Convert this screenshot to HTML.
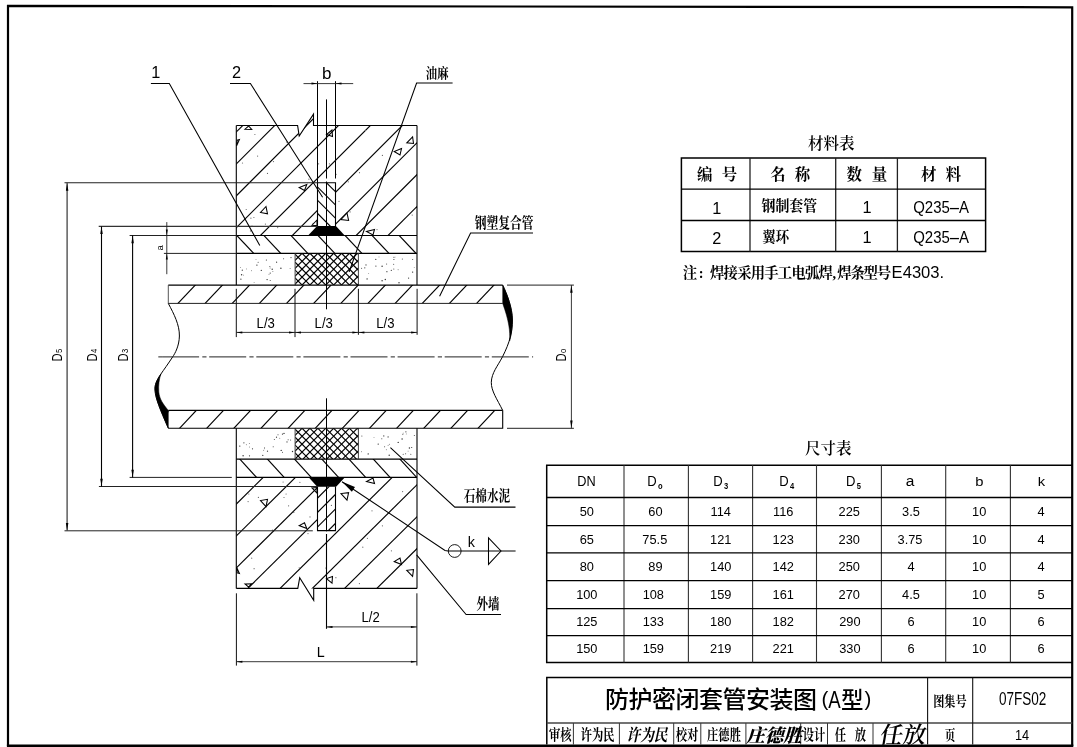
<!DOCTYPE html>
<html lang="zh-CN">
<head>
<meta charset="utf-8">
<title>防护密闭套管安装图(A型)</title>
<style>
html,body{margin:0;padding:0;background:#fff;}
body{width:1077px;height:747px;overflow:hidden;}
svg{display:block;will-change:transform;}
text{white-space:pre;}
</style>
</head>
<body>
<svg width="1077" height="747" viewBox="0 0 1077 747">
<rect x="0" y="0" width="1077" height="747" fill="#fff"/>

<g id="frame">
<path d="M8,746 L8,5.8 L1072.2,7.3 L1072.2,746" stroke="#000" stroke-width="2.2" fill="none" stroke-linejoin="miter"/>
<line x1="6.90" y1="745.70" x2="1073.30" y2="745.70" stroke="#000" stroke-width="2.6" />
</g>
<defs>
<clipPath id="cw1"><path clip-rule="evenodd" d="M236.3,125.5 H297.6 L299.2,136 L313.5,114.1 V125.5 H417.0 V235.5 H236.3 Z M317.5,182.8 H335.5 V235.5 H317.5 Z"/></clipPath>
<clipPath id="cw2"><path clip-rule="evenodd" d="M236.3,477.4 H417.0 V588.4 H236.3 Z M317.5,477.4 H362 V503 H335.5 V530.6 H317.5 Z"/></clipPath>
<clipPath id="cr1"><rect x="317.5" y="182.8" width="18.0" height="43.599999999999994"/></clipPath>
<clipPath id="cr2"><rect x="317.5" y="486.4" width="18.0" height="44.200000000000045"/></clipPath>
<clipPath id="cs1"><rect x="236.3" y="235.5" width="180.7" height="17.900000000000006"/></clipPath>
<clipPath id="cs2"><rect x="236.3" y="459.1" width="180.7" height="18.299999999999955"/></clipPath>
<clipPath id="ck1"><rect x="295.1" y="253.4" width="63.299999999999955" height="31.700000000000017"/></clipPath>
<clipPath id="ck2"><rect x="295.1" y="428.2" width="63.299999999999955" height="30.900000000000034"/></clipPath>
<clipPath id="cp1"><rect x="168.3" y="285.1" width="334.4" height="18.299999999999955"/></clipPath>
<clipPath id="cp2"><rect x="168.3" y="410.4" width="334.4" height="17.80000000000001"/></clipPath>
</defs>
<g id="hatch" stroke="#000" stroke-width="1.15" fill="none">
<g clip-path="url(#cw1)">
<line x1="76.40" y1="260.00" x2="236.40" y2="100.00"/>
<line x1="108.30" y1="260.00" x2="268.30" y2="100.00"/>
<line x1="140.20" y1="260.00" x2="300.20" y2="100.00"/>
<line x1="172.10" y1="260.00" x2="332.10" y2="100.00"/>
<line x1="204.00" y1="260.00" x2="364.00" y2="100.00"/>
<line x1="235.90" y1="260.00" x2="395.90" y2="100.00"/>
<line x1="267.80" y1="260.00" x2="427.80" y2="100.00"/>
<line x1="299.70" y1="260.00" x2="459.70" y2="100.00"/>
<line x1="331.60" y1="260.00" x2="491.60" y2="100.00"/>
<line x1="363.50" y1="260.00" x2="523.50" y2="100.00"/>
<line x1="395.40" y1="260.00" x2="555.40" y2="100.00"/>
</g>
<g clip-path="url(#cw2)">
<line x1="54.67" y1="620.00" x2="216.27" y2="460.00"/>
<line x1="86.92" y1="620.00" x2="248.52" y2="460.00"/>
<line x1="119.17" y1="620.00" x2="280.77" y2="460.00"/>
<line x1="151.42" y1="620.00" x2="313.02" y2="460.00"/>
<line x1="183.67" y1="620.00" x2="345.27" y2="460.00"/>
<line x1="215.92" y1="620.00" x2="377.52" y2="460.00"/>
<line x1="248.17" y1="620.00" x2="409.77" y2="460.00"/>
<line x1="280.42" y1="620.00" x2="442.02" y2="460.00"/>
<line x1="312.67" y1="620.00" x2="474.27" y2="460.00"/>
<line x1="344.92" y1="620.00" x2="506.52" y2="460.00"/>
</g>
<g clip-path="url(#cr1)">
<line x1="313.70" y1="170.00" x2="383.70" y2="240.00"/>
<line x1="300.50" y1="170.00" x2="370.50" y2="240.00"/>
<line x1="287.30" y1="170.00" x2="357.30" y2="240.00"/>
<line x1="274.10" y1="170.00" x2="344.10" y2="240.00"/>
<line x1="260.90" y1="170.00" x2="330.90" y2="240.00"/>
</g>
<g clip-path="url(#cr2)">
<line x1="256.10" y1="545.00" x2="331.10" y2="470.00"/>
<line x1="270.60" y1="545.00" x2="345.60" y2="470.00"/>
<line x1="284.90" y1="545.00" x2="359.90" y2="470.00"/>
<line x1="299.50" y1="545.00" x2="374.50" y2="470.00"/>
<line x1="313.90" y1="545.00" x2="388.90" y2="470.00"/>
</g>
<g clip-path="url(#cs1)">
<line x1="204.85" y1="230.20" x2="231.65" y2="258.70"/>
<line x1="231.90" y1="230.20" x2="258.70" y2="258.70"/>
<line x1="258.95" y1="230.20" x2="285.75" y2="258.70"/>
<line x1="286.00" y1="230.20" x2="312.80" y2="258.70"/>
<line x1="313.05" y1="230.20" x2="339.85" y2="258.70"/>
<line x1="340.10" y1="230.20" x2="366.90" y2="258.70"/>
<line x1="367.15" y1="230.20" x2="393.95" y2="258.70"/>
<line x1="394.20" y1="230.20" x2="421.00" y2="258.70"/>
<line x1="421.25" y1="230.20" x2="448.05" y2="258.70"/>
</g>
<g clip-path="url(#cs2)">
<line x1="207.80" y1="453.70" x2="234.40" y2="482.80"/>
<line x1="234.90" y1="453.70" x2="261.50" y2="482.80"/>
<line x1="262.50" y1="453.70" x2="289.10" y2="482.80"/>
<line x1="289.60" y1="453.70" x2="316.20" y2="482.80"/>
<line x1="316.90" y1="453.70" x2="343.50" y2="482.80"/>
<line x1="344.00" y1="453.70" x2="370.60" y2="482.80"/>
<line x1="368.40" y1="453.70" x2="395.00" y2="482.80"/>
<line x1="395.00" y1="453.70" x2="421.60" y2="482.80"/>
<line x1="422.00" y1="453.70" x2="448.60" y2="482.80"/>
</g>
<g clip-path="url(#cp1)">
<line x1="147.75" y1="306.60" x2="171.15" y2="281.90"/>
<line x1="174.90" y1="306.60" x2="198.30" y2="281.90"/>
<line x1="202.05" y1="306.60" x2="225.45" y2="281.90"/>
<line x1="229.20" y1="306.60" x2="252.60" y2="281.90"/>
<line x1="256.35" y1="306.60" x2="279.75" y2="281.90"/>
<line x1="283.50" y1="306.60" x2="306.90" y2="281.90"/>
<line x1="310.65" y1="306.60" x2="334.05" y2="281.90"/>
<line x1="337.80" y1="306.60" x2="361.20" y2="281.90"/>
<line x1="364.95" y1="306.60" x2="388.35" y2="281.90"/>
<line x1="392.10" y1="306.60" x2="415.50" y2="281.90"/>
<line x1="419.25" y1="306.60" x2="442.65" y2="281.90"/>
<line x1="446.40" y1="306.60" x2="469.80" y2="281.90"/>
<line x1="473.55" y1="306.60" x2="496.95" y2="281.90"/>
<line x1="500.70" y1="306.60" x2="524.10" y2="281.90"/>
<line x1="527.85" y1="306.60" x2="551.25" y2="281.90"/>
</g>
<g clip-path="url(#cp2)">
<line x1="149.57" y1="431.40" x2="172.17" y2="407.20"/>
<line x1="176.70" y1="431.40" x2="199.30" y2="407.20"/>
<line x1="203.83" y1="431.40" x2="226.43" y2="407.20"/>
<line x1="230.96" y1="431.40" x2="253.56" y2="407.20"/>
<line x1="258.09" y1="431.40" x2="280.69" y2="407.20"/>
<line x1="285.22" y1="431.40" x2="307.82" y2="407.20"/>
<line x1="312.35" y1="431.40" x2="334.95" y2="407.20"/>
<line x1="339.48" y1="431.40" x2="362.08" y2="407.20"/>
<line x1="366.61" y1="431.40" x2="389.21" y2="407.20"/>
<line x1="393.74" y1="431.40" x2="416.34" y2="407.20"/>
<line x1="420.87" y1="431.40" x2="443.47" y2="407.20"/>
<line x1="448.00" y1="431.40" x2="470.60" y2="407.20"/>
<line x1="475.13" y1="431.40" x2="497.73" y2="407.20"/>
<line x1="502.26" y1="431.40" x2="524.86" y2="407.20"/>
<line x1="529.39" y1="431.40" x2="551.99" y2="407.20"/>
</g>
<g clip-path="url(#ck1)" stroke-width="1.2">
<line x1="262.60" y1="253.40" x2="294.30" y2="285.10"/>
<line x1="262.40" y1="285.10" x2="294.10" y2="253.40"/>
<line x1="270.50" y1="253.40" x2="302.20" y2="285.10"/>
<line x1="270.30" y1="285.10" x2="302.00" y2="253.40"/>
<line x1="278.40" y1="253.40" x2="310.10" y2="285.10"/>
<line x1="278.20" y1="285.10" x2="309.90" y2="253.40"/>
<line x1="286.30" y1="253.40" x2="318.00" y2="285.10"/>
<line x1="286.10" y1="285.10" x2="317.80" y2="253.40"/>
<line x1="294.20" y1="253.40" x2="325.90" y2="285.10"/>
<line x1="294.00" y1="285.10" x2="325.70" y2="253.40"/>
<line x1="302.10" y1="253.40" x2="333.80" y2="285.10"/>
<line x1="301.90" y1="285.10" x2="333.60" y2="253.40"/>
<line x1="310.00" y1="253.40" x2="341.70" y2="285.10"/>
<line x1="309.80" y1="285.10" x2="341.50" y2="253.40"/>
<line x1="317.90" y1="253.40" x2="349.60" y2="285.10"/>
<line x1="317.70" y1="285.10" x2="349.40" y2="253.40"/>
<line x1="325.80" y1="253.40" x2="357.50" y2="285.10"/>
<line x1="325.60" y1="285.10" x2="357.30" y2="253.40"/>
<line x1="333.70" y1="253.40" x2="365.40" y2="285.10"/>
<line x1="333.50" y1="285.10" x2="365.20" y2="253.40"/>
<line x1="341.60" y1="253.40" x2="373.30" y2="285.10"/>
<line x1="341.40" y1="285.10" x2="373.10" y2="253.40"/>
<line x1="349.50" y1="253.40" x2="381.20" y2="285.10"/>
<line x1="349.30" y1="285.10" x2="381.00" y2="253.40"/>
<line x1="357.40" y1="253.40" x2="389.10" y2="285.10"/>
<line x1="357.20" y1="285.10" x2="388.90" y2="253.40"/>
</g>
<g clip-path="url(#ck2)" stroke-width="1.2">
<line x1="270.30" y1="428.20" x2="301.20" y2="459.10"/>
<line x1="278.20" y1="428.20" x2="309.10" y2="459.10"/>
<line x1="286.10" y1="428.20" x2="317.00" y2="459.10"/>
<line x1="294.00" y1="428.20" x2="324.90" y2="459.10"/>
<line x1="301.90" y1="428.20" x2="332.80" y2="459.10"/>
<line x1="309.80" y1="428.20" x2="340.70" y2="459.10"/>
<line x1="317.70" y1="428.20" x2="348.60" y2="459.10"/>
<line x1="325.60" y1="428.20" x2="356.50" y2="459.10"/>
<line x1="333.50" y1="428.20" x2="364.40" y2="459.10"/>
<line x1="341.40" y1="428.20" x2="372.30" y2="459.10"/>
<line x1="349.30" y1="428.20" x2="380.20" y2="459.10"/>
<line x1="357.20" y1="428.20" x2="388.10" y2="459.10"/>
<line x1="263.40" y1="459.10" x2="294.30" y2="428.20"/>
<line x1="271.30" y1="459.10" x2="302.20" y2="428.20"/>
<line x1="279.20" y1="459.10" x2="310.10" y2="428.20"/>
<line x1="287.10" y1="459.10" x2="318.00" y2="428.20"/>
<line x1="295.00" y1="459.10" x2="325.90" y2="428.20"/>
<line x1="302.90" y1="459.10" x2="333.80" y2="428.20"/>
<line x1="310.80" y1="459.10" x2="341.70" y2="428.20"/>
<line x1="318.70" y1="459.10" x2="349.60" y2="428.20"/>
<line x1="326.60" y1="459.10" x2="357.50" y2="428.20"/>
<line x1="334.50" y1="459.10" x2="365.40" y2="428.20"/>
<line x1="342.40" y1="459.10" x2="373.30" y2="428.20"/>
<line x1="350.30" y1="459.10" x2="381.20" y2="428.20"/>
<line x1="358.20" y1="459.10" x2="389.10" y2="428.20"/>
</g>
</g>
<g id="dots" fill="#333">
<circle cx="256.0" cy="259.6" r="0.45"/>
<circle cx="242.3" cy="270.2" r="0.6"/>
<circle cx="270.2" cy="280.6" r="0.5"/>
<circle cx="240.4" cy="267.4" r="0.45"/>
<circle cx="251.5" cy="270.7" r="0.45"/>
<circle cx="283.6" cy="258.8" r="0.5"/>
<circle cx="272.9" cy="271.5" r="0.45"/>
<circle cx="269.9" cy="266.4" r="0.5"/>
<circle cx="240.9" cy="279.2" r="0.6"/>
<circle cx="261.3" cy="270.4" r="0.6"/>
<circle cx="269.0" cy="274.3" r="0.45"/>
<circle cx="270.2" cy="273.1" r="0.6"/>
<circle cx="243.6" cy="275.1" r="0.45"/>
<circle cx="272.2" cy="269.2" r="0.7"/>
<circle cx="280.9" cy="268.3" r="0.7"/>
<circle cx="258.1" cy="262.3" r="0.5"/>
<circle cx="276.6" cy="262.2" r="0.6"/>
<circle cx="267.1" cy="279.6" r="0.7"/>
<circle cx="254.1" cy="282.6" r="0.45"/>
<circle cx="266.4" cy="260.0" r="0.6"/>
<circle cx="246.6" cy="268.9" r="0.45"/>
<circle cx="291.0" cy="257.6" r="0.6"/>
<circle cx="256.9" cy="265.1" r="0.7"/>
<circle cx="270.1" cy="268.0" r="0.45"/>
<circle cx="290.1" cy="268.5" r="0.45"/>
<circle cx="241.6" cy="274.8" r="0.7"/>
<circle cx="375.9" cy="266.1" r="0.6"/>
<circle cx="361.6" cy="268.2" r="0.5"/>
<circle cx="393.8" cy="269.1" r="0.5"/>
<circle cx="402.3" cy="259.0" r="0.5"/>
<circle cx="382.1" cy="280.8" r="0.7"/>
<circle cx="364.8" cy="267.8" r="0.6"/>
<circle cx="408.6" cy="278.1" r="0.6"/>
<circle cx="399.0" cy="282.7" r="0.7"/>
<circle cx="412.7" cy="259.6" r="0.5"/>
<circle cx="368.7" cy="273.6" r="0.45"/>
<circle cx="386.9" cy="271.7" r="0.6"/>
<circle cx="375.8" cy="259.4" r="0.6"/>
<circle cx="393.7" cy="264.2" r="0.5"/>
<circle cx="398.1" cy="269.7" r="0.45"/>
<circle cx="385.3" cy="279.5" r="0.7"/>
<circle cx="382.1" cy="266.3" r="0.7"/>
<circle cx="395.0" cy="257.1" r="0.45"/>
<circle cx="414.2" cy="267.6" r="0.45"/>
<circle cx="379.0" cy="256.9" r="0.45"/>
<circle cx="391.3" cy="270.3" r="0.6"/>
<circle cx="393.9" cy="257.3" r="0.5"/>
<circle cx="393.9" cy="259.5" r="0.6"/>
<circle cx="412.6" cy="272.1" r="0.7"/>
<circle cx="367.1" cy="278.9" r="0.7"/>
<circle cx="386.6" cy="264.0" r="0.5"/>
<circle cx="366.0" cy="264.9" r="0.6"/>
<circle cx="264.5" cy="448.8" r="0.45"/>
<circle cx="249.5" cy="455.8" r="0.6"/>
<circle cx="246.3" cy="444.8" r="0.45"/>
<circle cx="279.8" cy="438.2" r="0.45"/>
<circle cx="276.5" cy="437.2" r="0.6"/>
<circle cx="288.1" cy="439.8" r="0.5"/>
<circle cx="267.5" cy="451.2" r="0.6"/>
<circle cx="273.2" cy="446.7" r="0.5"/>
<circle cx="282.5" cy="452.2" r="0.5"/>
<circle cx="249.3" cy="443.5" r="0.45"/>
<circle cx="292.5" cy="451.5" r="0.7"/>
<circle cx="252.5" cy="448.8" r="0.6"/>
<circle cx="262.8" cy="455.4" r="0.6"/>
<circle cx="290.6" cy="440.0" r="0.5"/>
<circle cx="243.9" cy="442.8" r="0.6"/>
<circle cx="249.5" cy="447.0" r="0.45"/>
<circle cx="264.6" cy="447.8" r="0.45"/>
<circle cx="284.0" cy="433.4" r="0.7"/>
<circle cx="281.2" cy="450.4" r="0.7"/>
<circle cx="287.0" cy="441.9" r="0.6"/>
<circle cx="243.1" cy="455.7" r="0.7"/>
<circle cx="263.7" cy="450.2" r="0.45"/>
<circle cx="278.0" cy="434.8" r="0.5"/>
<circle cx="239.8" cy="446.1" r="0.7"/>
<circle cx="282.5" cy="434.1" r="0.7"/>
<circle cx="274.3" cy="439.6" r="0.5"/>
<circle cx="361.6" cy="451.7" r="0.45"/>
<circle cx="389.2" cy="455.3" r="0.7"/>
<circle cx="414.3" cy="435.4" r="0.5"/>
<circle cx="361.9" cy="435.9" r="0.5"/>
<circle cx="402.1" cy="439.0" r="0.7"/>
<circle cx="405.9" cy="431.8" r="0.6"/>
<circle cx="409.4" cy="448.0" r="0.7"/>
<circle cx="405.6" cy="453.8" r="0.5"/>
<circle cx="389.4" cy="444.3" r="0.45"/>
<circle cx="408.1" cy="451.1" r="0.45"/>
<circle cx="402.8" cy="434.2" r="0.5"/>
<circle cx="386.3" cy="449.7" r="0.45"/>
<circle cx="378.2" cy="444.1" r="0.7"/>
<circle cx="403.2" cy="433.1" r="0.45"/>
<circle cx="374.0" cy="437.6" r="0.45"/>
<circle cx="388.1" cy="445.3" r="0.45"/>
<circle cx="384.6" cy="446.7" r="0.5"/>
<circle cx="398.2" cy="442.4" r="0.7"/>
<circle cx="388.1" cy="436.9" r="0.6"/>
<circle cx="410.8" cy="454.2" r="0.5"/>
<circle cx="406.3" cy="433.9" r="0.45"/>
<circle cx="381.8" cy="438.7" r="0.5"/>
<circle cx="383.8" cy="435.9" r="0.6"/>
<circle cx="403.2" cy="454.3" r="0.5"/>
<circle cx="411.7" cy="447.5" r="0.6"/>
<circle cx="368.2" cy="453.9" r="0.7"/>
</g><g id="specks" fill="#666">
<circle cx="277.7" cy="227.6" r="0.6"/>
<circle cx="308.9" cy="179.2" r="0.6"/>
<circle cx="412.2" cy="215.1" r="0.6"/>
<circle cx="267.5" cy="173.4" r="0.6"/>
<circle cx="329.4" cy="163.8" r="0.6"/>
<circle cx="273.5" cy="161.6" r="0.6"/>
<circle cx="365.5" cy="130.5" r="0.6"/>
<circle cx="336.1" cy="174.3" r="0.6"/>
<circle cx="242.5" cy="163.0" r="0.6"/>
<circle cx="348.3" cy="181.8" r="0.6"/>
<circle cx="250.5" cy="230.9" r="0.6"/>
<circle cx="377.0" cy="229.6" r="0.6"/>
<circle cx="257.6" cy="156.1" r="0.6"/>
<circle cx="246.2" cy="209.5" r="0.6"/>
<circle cx="286.5" cy="142.0" r="0.6"/>
<circle cx="313.1" cy="223.3" r="0.6"/>
<circle cx="382.4" cy="155.4" r="0.6"/>
<circle cx="265.4" cy="224.1" r="0.6"/>
<circle cx="339.0" cy="201.3" r="0.6"/>
<circle cx="254.9" cy="134.5" r="0.6"/>
<circle cx="359.5" cy="172.7" r="0.6"/>
<circle cx="252.0" cy="226.1" r="0.6"/>
<circle cx="350.1" cy="211.9" r="0.6"/>
<circle cx="253.9" cy="217.5" r="0.6"/>
<circle cx="250.9" cy="218.2" r="0.6"/>
<circle cx="318.6" cy="163.8" r="0.6"/>
<circle cx="335.9" cy="577.7" r="0.6"/>
<circle cx="286.1" cy="494.0" r="0.6"/>
<circle cx="331.4" cy="505.4" r="0.6"/>
<circle cx="258.4" cy="497.4" r="0.6"/>
<circle cx="248.1" cy="501.6" r="0.6"/>
<circle cx="293.8" cy="512.4" r="0.6"/>
<circle cx="372.0" cy="510.8" r="0.6"/>
<circle cx="326.7" cy="499.1" r="0.6"/>
<circle cx="299.9" cy="482.3" r="0.6"/>
<circle cx="283.1" cy="482.0" r="0.6"/>
<circle cx="367.4" cy="538.3" r="0.6"/>
<circle cx="272.4" cy="530.2" r="0.6"/>
<circle cx="402.6" cy="491.6" r="0.6"/>
<circle cx="382.4" cy="525.8" r="0.6"/>
<circle cx="325.8" cy="568.0" r="0.6"/>
<circle cx="308.0" cy="533.6" r="0.6"/>
<circle cx="359.4" cy="583.6" r="0.6"/>
<circle cx="299.2" cy="567.8" r="0.6"/>
<circle cx="362.8" cy="547.2" r="0.6"/>
<circle cx="310.0" cy="516.9" r="0.6"/>
<circle cx="248.8" cy="494.0" r="0.6"/>
<circle cx="251.7" cy="558.2" r="0.6"/>
<circle cx="284.0" cy="497.5" r="0.6"/>
<circle cx="254.1" cy="568.7" r="0.6"/>
<circle cx="391.4" cy="550.8" r="0.6"/>
<circle cx="288.6" cy="505.8" r="0.6"/>
</g>
<g id="tri" stroke="#000" stroke-width="1.05" fill="none" stroke-linejoin="miter">
<polygon points="245.0,129.2 251.7,129.4 248.6,126.0"/>
<polygon points="245.0,583.9 251.7,583.7 248.6,587.1"/>
<polygon points="239.4,139.6 236.6,145.8 237.2,140.2"/>
<polygon points="239.4,573.5 236.6,567.3 237.2,572.9"/>
<polygon points="332.0,130.0 326.5,134.5 332.5,136.5"/>
<polygon points="332.0,583.1 326.5,578.6 332.5,576.6"/>
<polygon points="412.6,136.8 406.8,142.8 413.5,143.5"/>
<polygon points="412.6,576.3 406.8,570.3 413.5,569.6"/>
<polygon points="401.5,148.5 394.2,151.5 400.0,155.0"/>
<polygon points="401.5,564.6 394.2,561.6 400.0,558.1"/>
<polygon points="306.8,184.5 299.2,187.5 304.5,190.4"/>
<polygon points="306.8,528.6 299.2,525.6 304.5,522.7"/>
<polygon points="266.0,206.5 260.5,212.5 267.5,213.8"/>
<polygon points="266.0,506.6 260.5,500.6 267.5,499.3"/>
<polygon points="317.0,220.0 312.0,225.2 317.0,225.6"/>
<polygon points="317.0,493.1 312.0,487.9 317.0,487.5"/>
<polygon points="347.0,213.0 341.0,219.5 348.6,220.4"/>
<polygon points="347.0,500.1 341.0,493.6 348.6,492.7"/>
<polygon points="374.5,229.5 366.5,231.5 373.0,235.0"/>
<polygon points="374.5,483.6 366.5,481.6 373.0,478.1"/>
</g>
<g id="outline" stroke="#000" stroke-width="1.1" fill="none">
<path d="M236.3,125.5 H297.6 L299.2,136 L313.5,114.1 V125.5 H417.0" stroke="#000" stroke-width="1.1" fill="none" />
<path d="M236.3,588.4 H297.8 L299.7,577.7 L313.7,600.4 V588.4 H417.0" stroke="#000" stroke-width="1.1" fill="none" />
<line x1="236.30" y1="125.50" x2="236.30" y2="285.10" stroke="#000" stroke-width="1.1" />
<line x1="417.00" y1="125.50" x2="417.00" y2="285.10" stroke="#000" stroke-width="1.1" />
<line x1="236.30" y1="428.20" x2="236.30" y2="588.40" stroke="#000" stroke-width="1.1" />
<line x1="417.00" y1="428.20" x2="417.00" y2="588.40" stroke="#000" stroke-width="1.1" />
<line x1="236.30" y1="235.50" x2="417.00" y2="235.50" stroke="#000" stroke-width="1.1" />
<line x1="236.30" y1="253.40" x2="417.00" y2="253.40" stroke="#000" stroke-width="1.1" />
<line x1="236.30" y1="459.10" x2="417.00" y2="459.10" stroke="#000" stroke-width="1.1" />
<line x1="236.30" y1="477.40" x2="417.00" y2="477.40" stroke="#000" stroke-width="1.1" />
<line x1="295.10" y1="253.40" x2="295.10" y2="285.10" stroke="#444" stroke-width="1.0" />
<line x1="295.10" y1="428.20" x2="295.10" y2="459.10" stroke="#444" stroke-width="1.0" />
<line x1="358.40" y1="253.40" x2="358.40" y2="285.10" stroke="#444" stroke-width="1.0" />
<line x1="358.40" y1="428.20" x2="358.40" y2="459.10" stroke="#444" stroke-width="1.0" />
<path d="M317.5,226.4 V182.8 H335.5 V226.4" stroke="#000" stroke-width="1.1" fill="none" />
<path d="M317.5,486.4 V530.6 H335.5 V486.4" stroke="#000" stroke-width="1.1" fill="none" />
<path d="M502.7,285.1 H168.3" stroke="#000" stroke-width="1.05" fill="none" />
<line x1="168.30" y1="303.40" x2="502.70" y2="303.40" stroke="#222" stroke-width="1.0" />
<line x1="168.30" y1="285.10" x2="168.30" y2="303.40" stroke="#555" stroke-width="1.0" />
<path d="M502.7,410.4 H168.3 M168.3,428.2 H502.7 V410.4" stroke="#000" stroke-width="1.1" fill="none" />
</g>
<polygon points="317.10,226.00 335.90,226.00 345.20,236.00 307.60,236.00" fill="#000" stroke="none" stroke-width="1"/>
<polygon points="308.40,476.90 345.20,476.90 336.10,486.80 317.20,486.80" fill="#000" stroke="none" stroke-width="1"/>
<g id="breaks">
<path d="M168.3,303.4 C174,314 179.6,325 179.4,336 C179.2,346 175,353.5 172.6,357 C168,364 164,369.5 160.9,374 C156.5,380.5 154.6,385 155,390 C155.6,399 160,409 168.3,428.2" stroke="#000" stroke-width="1.0" fill="none" />
<path d="M160.9,374 C156.5,380.5 154.6,385 155,390 C155.6,399 160,409 168.3,428.2 L168.3,410.4 C163,404 159.5,399 158.8,392 C158.3,385 159.2,379 160.9,374 Z" stroke="#000" stroke-width="0.5" fill="#000" />
<path d="M502.7,285.1 C507,294 512.4,308 512.4,320 C512.4,332 510,342 502.4,357 C498,365.5 491.5,373 491.3,382.3 C491.2,391 497,399 502.7,410.4" stroke="#000" stroke-width="1.0" fill="none" />
<path d="M502.7,285.1 C507,294 512.4,308 512.4,320 C512.4,328 511.3,335 509.6,341 C510.2,331 509,321 502.7,303.4 Z" stroke="#000" stroke-width="0.5" fill="#000" />
</g>
<g id="centre">
<line x1="158.30" y1="356.90" x2="162.10" y2="356.90" stroke="#222" stroke-width="1" />
<path d="M162.1,356.9 H533.1" stroke="#222" stroke-width="1" fill="none" stroke-dasharray="37 3.2 4.2 2.7"/>
<line x1="326.50" y1="99.40" x2="326.50" y2="178.50" stroke="#000" stroke-width="1.0" />
<line x1="326.50" y1="181.50" x2="326.50" y2="309.30" stroke="#000" stroke-width="1.0" />
<line x1="326.50" y1="398.30" x2="326.50" y2="531.30" stroke="#000" stroke-width="1.0" />
<line x1="326.50" y1="534.00" x2="326.50" y2="628.80" stroke="#000" stroke-width="1.1" />
</g>
<g id="dims">
<line x1="317.50" y1="81.20" x2="317.50" y2="182.80" stroke="#000" stroke-width="1.0" />
<line x1="335.50" y1="81.20" x2="335.50" y2="178.50" stroke="#000" stroke-width="1.0" />
<line x1="303.50" y1="83.60" x2="353.20" y2="83.60" stroke="#222" stroke-width="0.9" />
<polygon points="317.50,83.60 311.50,84.60 311.50,82.60" fill="#000" stroke="none" stroke-width="1"/>
<polygon points="335.50,83.60 341.50,82.60 341.50,84.60" fill="#000" stroke="none" stroke-width="1"/>
<line x1="64.50" y1="182.80" x2="317.50" y2="182.80" stroke="#222" stroke-width="1.1" />
<line x1="64.50" y1="530.80" x2="312.80" y2="530.80" stroke="#222" stroke-width="1.0" />
<line x1="67.10" y1="182.80" x2="67.10" y2="530.80" stroke="#444" stroke-width="1.3" />
<polygon points="67.10,183.20 68.35,190.70 65.85,190.70" fill="#000" stroke="none" stroke-width="1"/>
<polygon points="67.10,530.60 65.85,523.10 68.35,523.10" fill="#000" stroke="none" stroke-width="1"/>
<line x1="98.70" y1="226.40" x2="317.50" y2="226.40" stroke="#333" stroke-width="1.2" />
<line x1="98.90" y1="486.50" x2="317.50" y2="486.50" stroke="#222" stroke-width="1.0" />
<line x1="101.50" y1="226.40" x2="101.50" y2="486.50" stroke="#000" stroke-width="1.1" />
<polygon points="101.50,226.60 102.75,234.10 100.25,234.10" fill="#000" stroke="none" stroke-width="1"/>
<polygon points="101.50,486.30 100.25,478.80 102.75,478.80" fill="#000" stroke="none" stroke-width="1"/>
<line x1="129.60" y1="235.50" x2="236.30" y2="235.50" stroke="#222" stroke-width="1.0" />
<line x1="129.60" y1="477.40" x2="231.80" y2="477.40" stroke="#222" stroke-width="1.0" />
<line x1="132.60" y1="235.50" x2="132.60" y2="477.40" stroke="#000" stroke-width="1.1" />
<polygon points="132.60,235.70 133.85,243.20 131.35,243.20" fill="#000" stroke="none" stroke-width="1"/>
<polygon points="132.60,477.20 131.35,469.70 133.85,469.70" fill="#000" stroke="none" stroke-width="1"/>
<line x1="166.80" y1="222.10" x2="166.80" y2="274.20" stroke="#222" stroke-width="0.9" />
<line x1="163.90" y1="253.40" x2="236.30" y2="253.40" stroke="#222" stroke-width="1.0" />
<polygon points="166.80,235.50 165.80,229.50 167.80,229.50" fill="#000" stroke="none" stroke-width="1"/>
<polygon points="166.80,253.40 167.80,259.40 165.80,259.40" fill="#000" stroke="none" stroke-width="1"/>
<line x1="507.00" y1="285.10" x2="573.90" y2="285.10" stroke="#222" stroke-width="1.0" />
<line x1="507.00" y1="428.30" x2="573.90" y2="428.30" stroke="#222" stroke-width="1.0" />
<line x1="571.40" y1="285.10" x2="571.40" y2="428.30" stroke="#222" stroke-width="0.9" />
<polygon points="571.40,285.30 572.65,292.80 570.15,292.80" fill="#000" stroke="none" stroke-width="1"/>
<polygon points="571.40,428.10 570.15,420.60 572.65,420.60" fill="#000" stroke="none" stroke-width="1"/>
<line x1="236.30" y1="288.80" x2="236.30" y2="337.10" stroke="#111" stroke-width="1.0" />
<line x1="295.00" y1="288.80" x2="295.00" y2="337.10" stroke="#111" stroke-width="1.0" />
<line x1="358.40" y1="288.80" x2="358.40" y2="334.80" stroke="#111" stroke-width="1.0" />
<line x1="417.10" y1="288.80" x2="417.10" y2="334.80" stroke="#111" stroke-width="1.0" />
<line x1="236.30" y1="332.40" x2="417.10" y2="332.40" stroke="#222" stroke-width="0.9" />
<polygon points="236.30,332.40 242.30,331.40 242.30,333.40" fill="#000" stroke="none" stroke-width="1"/>
<polygon points="295.00,332.40 289.00,333.40 289.00,331.40" fill="#000" stroke="none" stroke-width="1"/>
<polygon points="295.00,332.40 301.00,331.40 301.00,333.40" fill="#000" stroke="none" stroke-width="1"/>
<polygon points="358.40,332.40 352.40,333.40 352.40,331.40" fill="#000" stroke="none" stroke-width="1"/>
<polygon points="358.40,332.40 364.40,331.40 364.40,333.40" fill="#000" stroke="none" stroke-width="1"/>
<polygon points="417.10,332.40 411.10,333.40 411.10,331.40" fill="#000" stroke="none" stroke-width="1"/>
<line x1="326.50" y1="626.90" x2="416.90" y2="626.90" stroke="#222" stroke-width="0.9" />
<polygon points="326.50,626.90 332.50,625.90 332.50,627.90" fill="#000" stroke="none" stroke-width="1"/>
<polygon points="416.90,626.90 410.90,627.90 410.90,625.90" fill="#000" stroke="none" stroke-width="1"/>
<line x1="236.40" y1="593.30" x2="236.40" y2="665.60" stroke="#111" stroke-width="1.0" />
<line x1="416.90" y1="593.30" x2="416.90" y2="665.60" stroke="#111" stroke-width="1.0" />
<line x1="236.40" y1="661.70" x2="416.90" y2="661.70" stroke="#222" stroke-width="0.9" />
<polygon points="236.40,661.70 242.40,660.70 242.40,662.70" fill="#000" stroke="none" stroke-width="1"/>
<polygon points="416.90,661.70 410.90,662.70 410.90,660.70" fill="#000" stroke="none" stroke-width="1"/>
</g>
<g id="leaders">
<path d="M150.9,83.5 H169.3 L259.8,245.5" stroke="#000" stroke-width="1.05" fill="none" />
<path d="M230,83.5 H250.4 L322.6,197.3" stroke="#000" stroke-width="1.05" fill="none" />
<path d="M452.6,83 H416.6 L349.1,272" stroke="#000" stroke-width="1.05" fill="none" />
<path d="M533,233 H470.6 L439.6,296.2" stroke="#000" stroke-width="1.05" fill="none" />
<path d="M515.5,507.1 H454.8 L390.4,447.6" stroke="#000" stroke-width="1.05" fill="none" />
<path d="M501,614.5 H466.1 L416.6,554.9" stroke="#000" stroke-width="1.05" fill="none" />
<path d="M342,481.7 L445,550.4 L448,551 H515.6" stroke="#000" stroke-width="1.05" fill="none" />
<polygon points="342.10,481.80 354.97,487.02 351.86,491.68" fill="#000" stroke="none" stroke-width="1"/>
<circle cx="454.7" cy="551" r="6.4" fill="none" stroke="#000" stroke-width="0.9"/>
<path d="M488.5,537.8 L501,551 L488.5,564.3 Z" stroke="#000" stroke-width="1.05" fill="none" />
</g>
<g id="labels">
<text transform="translate(155.90 77.60)" font-family='"Liberation Sans", sans-serif' font-size="16.3" font-weight="400" text-anchor="middle" fill="#000" >1</text>
<text transform="translate(236.60 77.60)" font-family='"Liberation Sans", sans-serif' font-size="16.3" font-weight="400" text-anchor="middle" fill="#000" >2</text>
<text transform="translate(326.70 79.40)" font-family='"Liberation Sans", sans-serif' font-size="17" font-weight="400" text-anchor="middle" fill="#000" >b</text>
<text transform="translate(437.20 78.00) scale(0.84 1)" font-family='"Liberation Serif", "Noto Serif CJK SC", serif' font-size="13.5" font-weight="700" text-anchor="middle" fill="#000" >油麻</text>
<text transform="translate(504.20 227.50) scale(0.81 1)" font-family='"Liberation Serif", "Noto Serif CJK SC", serif' font-size="14.5" font-weight="700" text-anchor="middle" fill="#000" >钢塑复合管</text>
<text transform="translate(486.90 500.50) scale(0.8 1)" font-family='"Liberation Serif", "Noto Serif CJK SC", serif' font-size="14.5" font-weight="700" text-anchor="middle" fill="#000" >石棉水泥</text>
<text transform="translate(487.90 608.80) scale(0.79 1)" font-family='"Liberation Serif", "Noto Serif CJK SC", serif' font-size="14.5" font-weight="700" text-anchor="middle" fill="#000" >外墙</text>
<text transform="translate(471.30 546.60)" font-family='"Liberation Sans", sans-serif' font-size="14.3" font-weight="400" text-anchor="middle" fill="#000" >k</text>
<text transform="translate(265.70 327.60) scale(0.92 1)" font-family='"Liberation Sans", sans-serif' font-size="14.3" font-weight="400" text-anchor="middle" fill="#000" >L/3</text>
<text transform="translate(323.70 327.60) scale(0.92 1)" font-family='"Liberation Sans", sans-serif' font-size="14.3" font-weight="400" text-anchor="middle" fill="#000" >L/3</text>
<text transform="translate(385.30 327.60) scale(0.92 1)" font-family='"Liberation Sans", sans-serif' font-size="14.3" font-weight="400" text-anchor="middle" fill="#000" >L/3</text>
<text transform="translate(370.60 622.00) scale(0.92 1)" font-family='"Liberation Sans", sans-serif' font-size="14.3" font-weight="400" text-anchor="middle" fill="#000" >L/2</text>
<text transform="translate(320.70 656.70)" font-family='"Liberation Sans", sans-serif' font-size="14.3" font-weight="400" text-anchor="middle" fill="#000" >L</text>
<text transform="translate(163.40 247.80) rotate(-90)" font-family='"Liberation Sans", sans-serif' font-size="9.6" font-weight="400" text-anchor="middle" fill="#000" >a</text>
<text transform="translate(62.1 361.6) rotate(-90) scale(0.8 1)" font-family='"Liberation Sans", sans-serif' font-size="14" text-anchor="start">D<tspan font-size="9.5" dx="0.6">5</tspan></text>
<text transform="translate(97.2 361.6) rotate(-90) scale(0.8 1)" font-family='"Liberation Sans", sans-serif' font-size="14" text-anchor="start">D<tspan font-size="9.5" dx="0.6">4</tspan></text>
<text transform="translate(127.6 361.6) rotate(-90) scale(0.8 1)" font-family='"Liberation Sans", sans-serif' font-size="14" text-anchor="start">D<tspan font-size="9.5" dx="0.6">3</tspan></text>
<text transform="translate(565.6 361.6) rotate(-90) scale(0.8 1)" font-family='"Liberation Sans", sans-serif' font-size="14" text-anchor="start">D<tspan font-size="9.5" dx="0.6">o</tspan></text>
</g>
<g id="mtable">
<rect x="681.4" y="158.0" width="304.20000000000005" height="93.5" fill="none" stroke="#000" stroke-width="1.5"/>
<line x1="750.00" y1="158.00" x2="750.00" y2="251.50" stroke="#222" stroke-width="1.3" />
<line x1="835.70" y1="158.00" x2="835.70" y2="251.50" stroke="#222" stroke-width="1.3" />
<line x1="897.40" y1="158.00" x2="897.40" y2="251.50" stroke="#222" stroke-width="1.3" />
<line x1="681.40" y1="189.10" x2="985.60" y2="189.10" stroke="#000" stroke-width="1.45" />
<line x1="681.40" y1="220.40" x2="985.60" y2="220.40" stroke="#000" stroke-width="1.45" />
<text transform="translate(831.20 149.00)" font-family='"Liberation Serif", "Noto Serif CJK SC", serif' font-size="15.5" font-weight="600" text-anchor="middle" fill="#000" >材料表</text>
<text y="180.2" font-family='"Liberation Serif", "Noto Serif CJK SC", serif' font-size="15.4" font-weight="700" text-anchor="middle"><tspan x="704.7">编</tspan><tspan x="727.5"> 号</tspan></text>
<text y="180.2" font-family='"Liberation Serif", "Noto Serif CJK SC", serif' font-size="15.4" font-weight="700" text-anchor="middle"><tspan x="777.9">名</tspan><tspan x="800.5"> 称</tspan></text>
<text y="180.2" font-family='"Liberation Serif", "Noto Serif CJK SC", serif' font-size="15.4" font-weight="700" text-anchor="middle"><tspan x="854.3">数</tspan><tspan x="877.5"> 量</tspan></text>
<text y="180.2" font-family='"Liberation Serif", "Noto Serif CJK SC", serif' font-size="15.4" font-weight="700" text-anchor="middle"><tspan x="928.7">材</tspan><tspan x="951.5"> 料</tspan></text>
<text transform="translate(716.80 213.60)" font-family='"Liberation Sans", sans-serif' font-size="16.3" font-weight="400" text-anchor="middle" fill="#000" >1</text>
<text transform="translate(716.80 243.70)" font-family='"Liberation Sans", sans-serif' font-size="16.3" font-weight="400" text-anchor="middle" fill="#000" >2</text>
<text transform="translate(867.10 213.40)" font-family='"Liberation Sans", sans-serif' font-size="16.3" font-weight="400" text-anchor="middle" fill="#000" >1</text>
<text transform="translate(867.10 243.40)" font-family='"Liberation Sans", sans-serif' font-size="16.3" font-weight="400" text-anchor="middle" fill="#000" >1</text>
<text transform="translate(913.2 213.4) scale(0.925 1)" font-family='"Liberation Sans", sans-serif' font-size="16.2" text-anchor="start">Q235<tspan dx="-1.8" textLength="13.4" lengthAdjust="spacingAndGlyphs">-</tspan><tspan dx="-1.8">A</tspan></text>
<text transform="translate(913.2 243.4) scale(0.925 1)" font-family='"Liberation Sans", sans-serif' font-size="16.2" text-anchor="start">Q235<tspan dx="-1.8" textLength="13.4" lengthAdjust="spacingAndGlyphs">-</tspan><tspan dx="-1.8">A</tspan></text>
<text transform="translate(761.50 210.60) scale(0.94 1)" font-family='"Liberation Serif", "Noto Serif CJK SC", serif' font-size="14.8" font-weight="700" text-anchor="start" fill="#000" >钢制套管</text>
<text transform="translate(762.30 241.60) scale(0.91 1)" font-family='"Liberation Serif", "Noto Serif CJK SC", serif' font-size="14.8" font-weight="700" text-anchor="start" fill="#000" >翼环</text>
<text y="277.8" font-family='"Liberation Serif", "Noto Serif CJK SC", serif' font-size="14.4" font-weight="700"><tspan x="682.8">注</tspan><tspan x="698.8">: </tspan><tspan x="710.0" textLength="123" lengthAdjust="spacing">焊接采用手工电弧焊</tspan><tspan x="832.6">,</tspan><tspan x="837.2" textLength="54" lengthAdjust="spacing">焊条型号</tspan><tspan x="891.6" font-family='"Liberation Sans", sans-serif' font-size="17.2" font-weight="400" textLength="52.6" lengthAdjust="spacingAndGlyphs">E4303.</tspan></text>
</g>
<g id="stable">
<path d="M1072.2,465.3 H546.7 V662.6 H1072.2" stroke="#000" stroke-width="1.5" fill="none" />
<line x1="624.00" y1="465.30" x2="624.00" y2="662.60" stroke="#333" stroke-width="1.1" />
<line x1="688.40" y1="465.30" x2="688.40" y2="662.60" stroke="#333" stroke-width="1.1" />
<line x1="752.60" y1="465.30" x2="752.60" y2="662.60" stroke="#333" stroke-width="1.1" />
<line x1="816.50" y1="465.30" x2="816.50" y2="662.60" stroke="#333" stroke-width="1.1" />
<line x1="881.40" y1="465.30" x2="881.40" y2="662.60" stroke="#333" stroke-width="1.1" />
<line x1="945.70" y1="465.30" x2="945.70" y2="662.60" stroke="#333" stroke-width="1.1" />
<line x1="1010.40" y1="465.30" x2="1010.40" y2="662.60" stroke="#333" stroke-width="1.1" />
<line x1="546.70" y1="497.50" x2="1072.20" y2="497.50" stroke="#000" stroke-width="1.4" />
<line x1="546.70" y1="525.60" x2="1072.20" y2="525.60" stroke="#000" stroke-width="1.25" />
<line x1="546.70" y1="552.90" x2="1072.20" y2="552.90" stroke="#000" stroke-width="1.25" />
<line x1="546.70" y1="580.60" x2="1072.20" y2="580.60" stroke="#000" stroke-width="1.25" />
<line x1="546.70" y1="608.50" x2="1072.20" y2="608.50" stroke="#000" stroke-width="1.25" />
<line x1="546.70" y1="635.60" x2="1072.20" y2="635.60" stroke="#000" stroke-width="1.25" />
<text transform="translate(828.30 453.60)" font-family='"Liberation Serif", "Noto Serif CJK SC", serif' font-size="15.5" font-weight="600" text-anchor="middle" fill="#000" >尺寸表</text>
<text transform="translate(586.40 486.40) scale(0.86 1)" font-family='"Liberation Sans", sans-serif' font-size="14.8" font-weight="400" text-anchor="middle" fill="#000" >DN</text>
<text transform="translate(647.2 486.4) scale(0.88 1)" font-family='"Liberation Sans", sans-serif' font-size="14.8" text-anchor="start">D<tspan font-size="8.6" font-weight="700" dx="1.6" dy="2.2">o</tspan></text>
<text transform="translate(713.2 486.4) scale(0.88 1)" font-family='"Liberation Sans", sans-serif' font-size="14.8" text-anchor="start">D<tspan font-size="8.6" font-weight="700" dx="1.6" dy="2.2">3</tspan></text>
<text transform="translate(779.2 486.4) scale(0.88 1)" font-family='"Liberation Sans", sans-serif' font-size="14.8" text-anchor="start">D<tspan font-size="8.6" font-weight="700" dx="1.6" dy="2.2">4</tspan></text>
<text transform="translate(845.9 486.4) scale(0.88 1)" font-family='"Liberation Sans", sans-serif' font-size="14.8" text-anchor="start">D<tspan font-size="8.6" font-weight="700" dx="1.6" dy="2.2">5</tspan></text>
<text transform="translate(910.00 486.40)" font-family='"Liberation Sans", sans-serif' font-size="15.5" font-weight="400" text-anchor="middle" fill="#000" >a</text>
<text transform="translate(979.40 486.40) scale(1.12 1)" font-family='"Liberation Sans", sans-serif' font-size="13.2" font-weight="400" text-anchor="middle" fill="#000" >b</text>
<text transform="translate(1041.50 486.40) scale(1.12 1)" font-family='"Liberation Sans", sans-serif' font-size="13.2" font-weight="400" text-anchor="middle" fill="#000" >k</text>
<text transform="translate(586.80 516.10)" font-family='"Liberation Sans", sans-serif' font-size="12.8" font-weight="400" text-anchor="middle" fill="#000" >50</text>
<text transform="translate(655.40 516.10)" font-family='"Liberation Sans", sans-serif' font-size="12.8" font-weight="400" text-anchor="middle" fill="#000" >60</text>
<text transform="translate(720.70 516.10)" font-family='"Liberation Sans", sans-serif' font-size="12.8" font-weight="400" text-anchor="middle" fill="#000" >114</text>
<text transform="translate(783.20 516.10)" font-family='"Liberation Sans", sans-serif' font-size="12.8" font-weight="400" text-anchor="middle" fill="#000" >116</text>
<text transform="translate(849.20 516.10)" font-family='"Liberation Sans", sans-serif' font-size="12.8" font-weight="400" text-anchor="middle" fill="#000" >225</text>
<text transform="translate(911.00 516.10)" font-family='"Liberation Sans", sans-serif' font-size="12.8" font-weight="400" text-anchor="middle" fill="#000" >3.5</text>
<text transform="translate(979.20 516.10)" font-family='"Liberation Sans", sans-serif' font-size="12.8" font-weight="400" text-anchor="middle" fill="#000" >10</text>
<text transform="translate(1041.00 516.10)" font-family='"Liberation Sans", sans-serif' font-size="12.8" font-weight="400" text-anchor="middle" fill="#000" >4</text>
<text transform="translate(586.80 543.60)" font-family='"Liberation Sans", sans-serif' font-size="12.8" font-weight="400" text-anchor="middle" fill="#000" >65</text>
<text transform="translate(654.80 543.60)" font-family='"Liberation Sans", sans-serif' font-size="12.8" font-weight="400" text-anchor="middle" fill="#000" >75.5</text>
<text transform="translate(720.70 543.60)" font-family='"Liberation Sans", sans-serif' font-size="12.8" font-weight="400" text-anchor="middle" fill="#000" >121</text>
<text transform="translate(783.20 543.60)" font-family='"Liberation Sans", sans-serif' font-size="12.8" font-weight="400" text-anchor="middle" fill="#000" >123</text>
<text transform="translate(849.20 543.60)" font-family='"Liberation Sans", sans-serif' font-size="12.8" font-weight="400" text-anchor="middle" fill="#000" >230</text>
<text transform="translate(910.00 543.60)" font-family='"Liberation Sans", sans-serif' font-size="12.8" font-weight="400" text-anchor="middle" fill="#000" >3.75</text>
<text transform="translate(979.20 543.60)" font-family='"Liberation Sans", sans-serif' font-size="12.8" font-weight="400" text-anchor="middle" fill="#000" >10</text>
<text transform="translate(1041.00 543.60)" font-family='"Liberation Sans", sans-serif' font-size="12.8" font-weight="400" text-anchor="middle" fill="#000" >4</text>
<text transform="translate(586.80 570.90)" font-family='"Liberation Sans", sans-serif' font-size="12.8" font-weight="400" text-anchor="middle" fill="#000" >80</text>
<text transform="translate(655.40 570.90)" font-family='"Liberation Sans", sans-serif' font-size="12.8" font-weight="400" text-anchor="middle" fill="#000" >89</text>
<text transform="translate(720.70 570.90)" font-family='"Liberation Sans", sans-serif' font-size="12.8" font-weight="400" text-anchor="middle" fill="#000" >140</text>
<text transform="translate(783.20 570.90)" font-family='"Liberation Sans", sans-serif' font-size="12.8" font-weight="400" text-anchor="middle" fill="#000" >142</text>
<text transform="translate(849.20 570.90)" font-family='"Liberation Sans", sans-serif' font-size="12.8" font-weight="400" text-anchor="middle" fill="#000" >250</text>
<text transform="translate(911.00 570.90)" font-family='"Liberation Sans", sans-serif' font-size="12.8" font-weight="400" text-anchor="middle" fill="#000" >4</text>
<text transform="translate(979.20 570.90)" font-family='"Liberation Sans", sans-serif' font-size="12.8" font-weight="400" text-anchor="middle" fill="#000" >10</text>
<text transform="translate(1041.00 570.90)" font-family='"Liberation Sans", sans-serif' font-size="12.8" font-weight="400" text-anchor="middle" fill="#000" >4</text>
<text transform="translate(586.80 598.60)" font-family='"Liberation Sans", sans-serif' font-size="12.8" font-weight="400" text-anchor="middle" fill="#000" >100</text>
<text transform="translate(653.30 598.60)" font-family='"Liberation Sans", sans-serif' font-size="12.8" font-weight="400" text-anchor="middle" fill="#000" >108</text>
<text transform="translate(720.70 598.60)" font-family='"Liberation Sans", sans-serif' font-size="12.8" font-weight="400" text-anchor="middle" fill="#000" >159</text>
<text transform="translate(783.20 598.60)" font-family='"Liberation Sans", sans-serif' font-size="12.8" font-weight="400" text-anchor="middle" fill="#000" >161</text>
<text transform="translate(849.20 598.60)" font-family='"Liberation Sans", sans-serif' font-size="12.8" font-weight="400" text-anchor="middle" fill="#000" >270</text>
<text transform="translate(911.00 598.60)" font-family='"Liberation Sans", sans-serif' font-size="12.8" font-weight="400" text-anchor="middle" fill="#000" >4.5</text>
<text transform="translate(979.20 598.60)" font-family='"Liberation Sans", sans-serif' font-size="12.8" font-weight="400" text-anchor="middle" fill="#000" >10</text>
<text transform="translate(1041.00 598.60)" font-family='"Liberation Sans", sans-serif' font-size="12.8" font-weight="400" text-anchor="middle" fill="#000" >5</text>
<text transform="translate(586.80 626.00)" font-family='"Liberation Sans", sans-serif' font-size="12.8" font-weight="400" text-anchor="middle" fill="#000" >125</text>
<text transform="translate(653.30 626.00)" font-family='"Liberation Sans", sans-serif' font-size="12.8" font-weight="400" text-anchor="middle" fill="#000" >133</text>
<text transform="translate(720.70 626.00)" font-family='"Liberation Sans", sans-serif' font-size="12.8" font-weight="400" text-anchor="middle" fill="#000" >180</text>
<text transform="translate(783.20 626.00)" font-family='"Liberation Sans", sans-serif' font-size="12.8" font-weight="400" text-anchor="middle" fill="#000" >182</text>
<text transform="translate(849.90 626.00)" font-family='"Liberation Sans", sans-serif' font-size="12.8" font-weight="400" text-anchor="middle" fill="#000" >290</text>
<text transform="translate(911.00 626.00)" font-family='"Liberation Sans", sans-serif' font-size="12.8" font-weight="400" text-anchor="middle" fill="#000" >6</text>
<text transform="translate(979.20 626.00)" font-family='"Liberation Sans", sans-serif' font-size="12.8" font-weight="400" text-anchor="middle" fill="#000" >10</text>
<text transform="translate(1041.00 626.00)" font-family='"Liberation Sans", sans-serif' font-size="12.8" font-weight="400" text-anchor="middle" fill="#000" >6</text>
<text transform="translate(586.80 653.30)" font-family='"Liberation Sans", sans-serif' font-size="12.8" font-weight="400" text-anchor="middle" fill="#000" >150</text>
<text transform="translate(653.30 653.30)" font-family='"Liberation Sans", sans-serif' font-size="12.8" font-weight="400" text-anchor="middle" fill="#000" >159</text>
<text transform="translate(720.70 653.30)" font-family='"Liberation Sans", sans-serif' font-size="12.8" font-weight="400" text-anchor="middle" fill="#000" >219</text>
<text transform="translate(783.20 653.30)" font-family='"Liberation Sans", sans-serif' font-size="12.8" font-weight="400" text-anchor="middle" fill="#000" >221</text>
<text transform="translate(849.90 653.30)" font-family='"Liberation Sans", sans-serif' font-size="12.8" font-weight="400" text-anchor="middle" fill="#000" >330</text>
<text transform="translate(911.00 653.30)" font-family='"Liberation Sans", sans-serif' font-size="12.8" font-weight="400" text-anchor="middle" fill="#000" >6</text>
<text transform="translate(979.20 653.30)" font-family='"Liberation Sans", sans-serif' font-size="12.8" font-weight="400" text-anchor="middle" fill="#000" >10</text>
<text transform="translate(1041.00 653.30)" font-family='"Liberation Sans", sans-serif' font-size="12.8" font-weight="400" text-anchor="middle" fill="#000" >6</text>
</g>
<g id="titleblock">
<path d="M1072.2,677.5 H546.8 V744.6" stroke="#000" stroke-width="1.5" fill="none" />
<line x1="546.80" y1="723.10" x2="1072.20" y2="723.10" stroke="#444" stroke-width="1.5" />
<line x1="573.40" y1="723.10" x2="573.40" y2="744.60" stroke="#333" stroke-width="1.0" />
<line x1="619.40" y1="723.10" x2="619.40" y2="744.60" stroke="#333" stroke-width="1.0" />
<line x1="673.70" y1="723.10" x2="673.70" y2="744.60" stroke="#333" stroke-width="1.0" />
<line x1="700.80" y1="723.10" x2="700.80" y2="744.60" stroke="#333" stroke-width="1.0" />
<line x1="745.90" y1="723.10" x2="745.90" y2="744.60" stroke="#333" stroke-width="1.0" />
<line x1="800.70" y1="723.10" x2="800.70" y2="744.60" stroke="#333" stroke-width="1.0" />
<line x1="827.50" y1="723.10" x2="827.50" y2="744.60" stroke="#333" stroke-width="1.0" />
<line x1="873.00" y1="723.10" x2="873.00" y2="744.60" stroke="#333" stroke-width="1.0" />
<line x1="927.60" y1="677.50" x2="927.60" y2="744.60" stroke="#111" stroke-width="1.1" />
<line x1="972.70" y1="677.50" x2="972.70" y2="744.60" stroke="#111" stroke-width="1.1" />
<text y="707.8" font-family='"Liberation Sans", "Noto Sans CJK SC", sans-serif' font-size="24" font-weight="500"><tspan x="605.0" textLength="212" lengthAdjust="spacing">防护密闭套管安装图</tspan><tspan x="821.4" dy="-1.6" font-size="20.5">(</tspan><tspan x="828.2" dy="1.6" textLength="12.4" lengthAdjust="spacingAndGlyphs">A</tspan><tspan x="841.0" font-size="22.5">型</tspan><tspan x="864.6" dy="-1.6" font-size="20.5">)</tspan></text>
<text transform="translate(560.20 740.00) scale(0.78 1)" font-family='"Liberation Serif", "Noto Serif CJK SC", serif' font-size="14.5" font-weight="700" text-anchor="middle" fill="#000" >审核</text>
<text transform="translate(597.70 740.00) scale(0.78 1)" font-family='"Liberation Serif", "Noto Serif CJK SC", serif' font-size="14.5" font-weight="700" text-anchor="middle" fill="#000" >许为民</text>
<text transform="translate(687.00 740.00) scale(0.78 1)" font-family='"Liberation Serif", "Noto Serif CJK SC", serif' font-size="14.5" font-weight="700" text-anchor="middle" fill="#000" >校对</text>
<text transform="translate(724.00 740.00) scale(0.78 1)" font-family='"Liberation Serif", "Noto Serif CJK SC", serif' font-size="14.5" font-weight="700" text-anchor="middle" fill="#000" >庄德胜</text>
<text transform="translate(814.00 740.00) scale(0.78 1)" font-family='"Liberation Serif", "Noto Serif CJK SC", serif' font-size="14.5" font-weight="700" text-anchor="middle" fill="#000" >设计</text>
<text transform="translate(0 740) scale(0.78 1)" font-family='"Liberation Serif", "Noto Serif CJK SC", serif' font-size="14.5" font-weight="700" text-anchor="middle"><tspan x="1077.4">任</tspan><tspan x="1101.3"> 放</tspan></text>
<text transform="translate(647 741) skewX(-12) scale(0.8 1)" font-family='"Liberation Serif", "Noto Serif CJK SC", serif' font-size="17" font-weight="700" text-anchor="middle">许为民</text>
<text transform="translate(774 741.5) skewX(-16) scale(1.0 1)" font-family='"Liberation Serif", "Noto Serif CJK SC", serif' font-size="18.5" font-weight="900" text-anchor="middle">庄德胜</text>
<text transform="translate(902 742.5) skewX(-10) scale(1.0 1)" font-family='"Liberation Serif", "Noto Serif CJK SC", serif' font-size="23" font-weight="600" text-anchor="middle">任放</text>
<text transform="translate(949.90 706.00) scale(0.8 1)" font-family='"Liberation Serif", "Noto Serif CJK SC", serif' font-size="14" font-weight="700" text-anchor="middle" fill="#000" >图集号</text>
<text transform="translate(1022.60 705.20) scale(0.77 1)" font-family='"Liberation Sans", sans-serif' font-size="17.6" font-weight="400" text-anchor="middle" fill="#000" >07FS02</text>
<text transform="translate(950.10 739.60) scale(0.75 1)" font-family='"Liberation Serif", "Noto Serif CJK SC", serif' font-size="14" font-weight="700" text-anchor="middle" fill="#000" >页</text>
<text transform="translate(1022.00 739.80) scale(0.85 1)" font-family='"Liberation Sans", sans-serif' font-size="15" font-weight="400" text-anchor="middle" fill="#000" >14</text>
</g>
</svg>
</body>
</html>
